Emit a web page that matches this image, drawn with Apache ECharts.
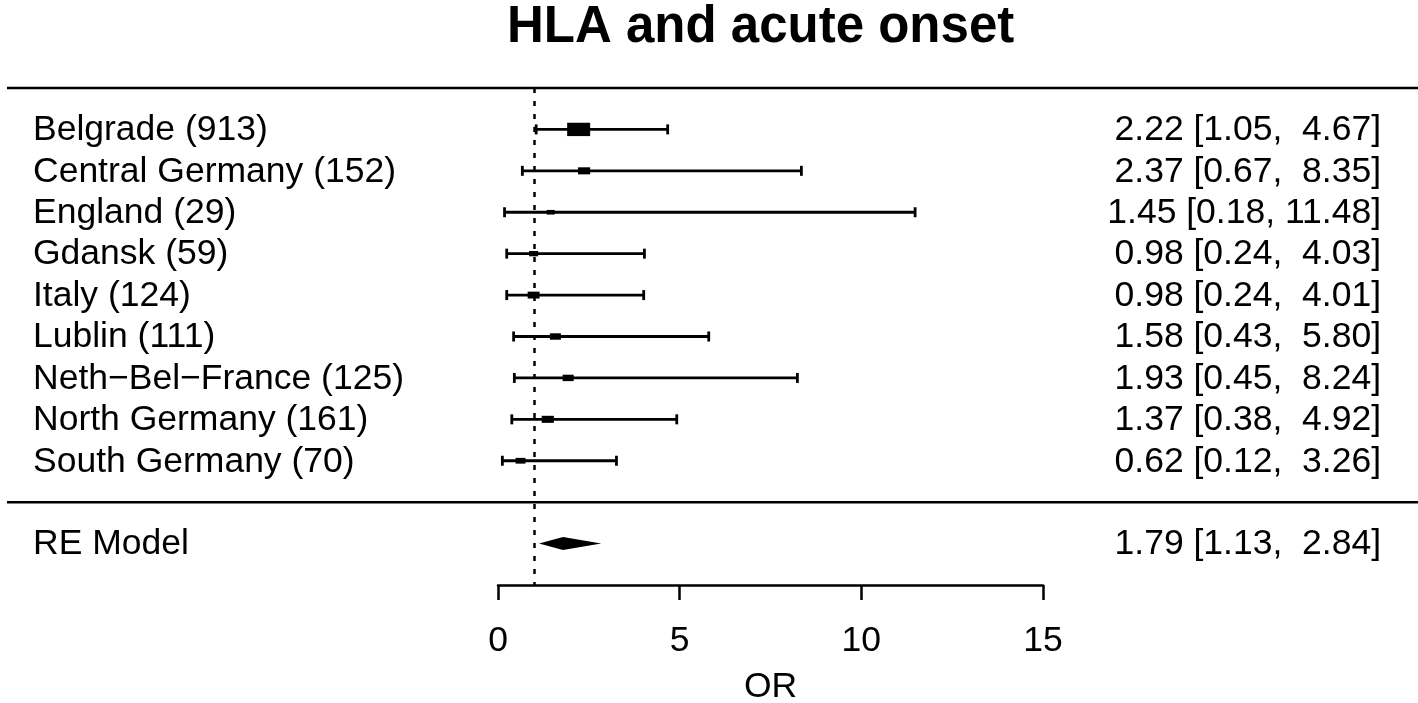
<!DOCTYPE html>
<html>
<head>
<meta charset="utf-8">
<script src="https://cdn.jsdelivr.net/npm/echarts@6/dist/echarts.min.js"></script>
<style>
html, body { margin: 0; padding: 0; background: #fff; }
#main { width: 1418px; height: 703px; }
</style>
</head>
<body>
<div id="main"></div>
<script>
// forest plot data
var studies = ["Belgrade (913)", "Central Germany (152)", "England (29)", "Gdansk (59)", "Italy (124)",
	"Lublin (111)", "Neth\u2212Bel\u2212France (125)", "North Germany (161)", "South Germany (70)"];
var estimates = [2.22, 2.37, 1.45, 0.98, 0.98, 1.58, 1.93, 1.37, 0.62];
var lower = [1.05, 0.67, 0.18, 0.24, 0.24, 0.43, 0.45, 0.38, 0.12];
var upper = [4.67, 8.35, 11.48, 4.03, 4.01, 5.80, 8.24, 4.92, 3.26];
var weights = [30, 10.5, 3, 5, 10, 8.5, 8.5, 10.5, 6.5];   // % weight, sets box size
var summaryLabel = "RE Model";
var summaryEst = 1.79, summaryLo = 1.13, summaryHi = 2.84;
var xTicks = [0, 5, 10, 15];

var FONT = "Liberation Sans";
var nRows = studies.length;
var summaryRow = nRows + 1;
var wMin = Math.min.apply(null, weights), wMax = Math.max.apply(null, weights);

function fmtCI(est, lo, hi) {
	var h = hi.toFixed(2);
	if (hi < 10) h = " " + h;
	return est.toFixed(2) + " [" + lo.toFixed(2) + ", " + h + "]";
}

var textRows = studies.map(function (s, i) {
	return [i, s, fmtCI(estimates[i], lower[i], upper[i])];
});
textRows.push([summaryRow, summaryLabel, fmtCI(summaryEst, summaryLo, summaryHi)]);

var ciData = studies.map(function (s, i) { return [lower[i], upper[i], i]; });
var boxData = studies.map(function (s, i) { return [estimates[i], i, weights[i]]; });

var myChart = echarts.init(document.getElementById("main"));

var option = {
	animation: false,
	backgroundColor: "#fff",
	title: {
		text: "HLA and acute onset",
		left: 507,
		top: 2,
		padding: 0,
		textStyle: { fontFamily: FONT, fontSize: 51, fontWeight: "bold", color: "#000" }
	},
	grid: { left: 498, right: 375, top: 88, bottom: 118, containLabel: false, outerBoundsMode: "none" },
	xAxis: {
		type: "value",
		min: xTicks[0],
		max: xTicks[xTicks.length - 1],
		interval: 5,
		name: "OR",
		nameLocation: "middle",
		nameGap: 84,
		nameTextStyle: { fontFamily: FONT, fontSize: 35.5, color: "#000" },
		axisLine: { show: true, onZero: false, lineStyle: { color: "#000", width: 2.5 } },
		axisTick: { show: true, length: 15, lineStyle: { color: "#000", width: 2.5 } },
		axisLabel: { fontFamily: FONT, fontSize: 35.5, color: "#000", margin: 38 },
		splitLine: { show: false }
	},
	yAxis: {
		type: "value",
		min: -1,
		max: 11,
		inverse: true,
		show: false
	},
	series: [
		{
			// confidence intervals
			type: "custom",
			data: ciData,
			clip: false,
			renderItem: function (params, api) {
				var a = api.coord([api.value(0), api.value(2)]);
				var b = api.coord([api.value(1), api.value(2)]);
				var st = { stroke: "#000", lineWidth: 2.8 };
				return {
					type: "group",
					children: [
						{ type: "line", shape: { x1: a[0], y1: a[1], x2: b[0], y2: b[1] }, style: st },
						{ type: "line", shape: { x1: a[0], y1: a[1] - 5, x2: a[0], y2: a[1] + 5 }, style: st },
						{ type: "line", shape: { x1: b[0], y1: b[1] - 5, x2: b[0], y2: b[1] + 5 }, style: st }
					]
				};
			},
			markLine: {
				silent: true,
				symbol: "none",
				label: { show: false },
				lineStyle: { color: "#000", width: 2.5, type: [5, 8] },
				data: [{ xAxis: 1 }]
			}
		},
		{
			// weighted boxes
			type: "custom",
			data: boxData,
			renderItem: function (params, api) {
				var c = api.coord([api.value(0), api.value(1)]);
				var w = 8 + (api.value(2) - wMin) / (wMax - wMin) * 15;
				var h = w * 0.58;
				return {
					type: "rect",
					shape: { x: c[0] - w / 2, y: c[1] - h / 2, width: w, height: h },
					style: { fill: "#000" }
				};
			}
		},
		{
			// summary diamond
			type: "custom",
			data: [[summaryLo, summaryEst, summaryHi, summaryRow]],
			renderItem: function (params, api) {
				var row = api.value(3);
				var l = api.coord([api.value(0), row]);
				var m = api.coord([api.value(1), row]);
				var r = api.coord([api.value(2), row]);
				return {
					type: "polygon",
					shape: { points: [[l[0], l[1]], [m[0], m[1] - 6.5], [r[0], r[1]], [m[0], m[1] + 6.5]] },
					style: { fill: "#000" }
				};
			}
		},
		{
			// separator lines
			type: "custom",
			data: [[-1], [nRows]],
			clip: false,
			renderItem: function (params, api) {
				var p = api.coord([0, api.value(0)]);
				return {
					type: "line",
					shape: { x1: 7, y1: p[1], x2: api.getWidth(), y2: p[1] },
					style: { stroke: "#000", lineWidth: 2.5 }
				};
			}
		},
		{
			// labels left and right
			type: "custom",
			data: textRows,
			clip: false,
			renderItem: function (params, api) {
				var p = api.coord([0, api.value(0)]);
				var row = textRows[params.dataIndex];
				return {
					type: "group",
					children: [
						{
							type: "text",
							style: { x: 33, y: p[1] + 1, text: row[1], fontFamily: FONT, fontSize: 35.5,
								fill: "#000", align: "left", verticalAlign: "middle" }
						},
						{
							type: "text",
							style: { x: 1381, y: p[1] + 1, text: row[2], fontFamily: FONT, fontSize: 35.5,
								fill: "#000", align: "right", verticalAlign: "middle" }
						}
					]
				};
			}
		}
	]
};

myChart.setOption(option);
</script>
</body>
</html>
